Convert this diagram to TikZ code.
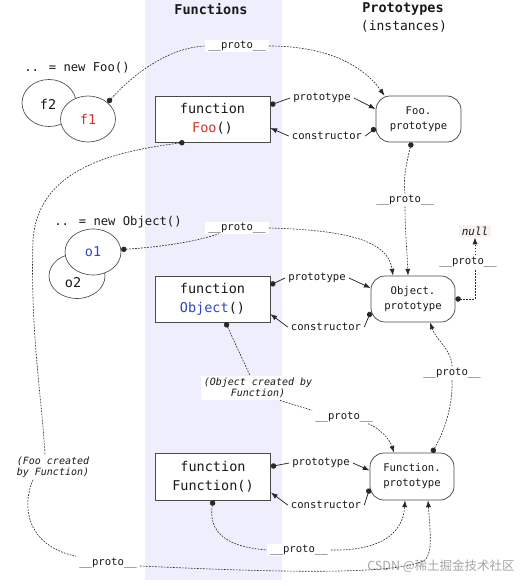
\documentclass[tikz,border=0pt]{standalone}
\usepackage{fontspec}
\setmainfont{DejaVu Sans Mono}
\setmonofont{DejaVu Sans Mono}
\newfontfamily\cjkfont{Noto Sans CJK SC}
\usetikzlibrary{arrows.meta,shapes.geometric,calc}
\definecolor{bandc}{RGB}{238,238,252}
\definecolor{redc}{RGB}{208,52,44}
\definecolor{bluec}{RGB}{48,72,190}
\definecolor{linec}{RGB}{40,40,40}
\definecolor{boxc}{RGB}{75,75,75}
\definecolor{txtc}{RGB}{25,25,25}
\definecolor{nullbg}{RGB}{246,243,239}
\begin{document}
\begin{tikzpicture}[x=1pt,y=-1pt,
  every node/.style={text=txtc},
  hdr/.style={font=\bfseries\fontsize{13.5}{15}\selectfont, inner sep=0, anchor=base},
  subhdr/.style={font=\fontsize{13}{15}\selectfont, inner sep=0, anchor=base},
  newtxt/.style={font=\fontsize{12.2}{14}\selectfont, inner sep=0, anchor=base},
  inst/.style={ellipse, draw=boxc, line width=0.65pt, fill=white, inner sep=0, font=\fontsize{13.5}{15}\selectfont},
  insttxt/.style={inner sep=0, font=\fontsize{13.5}{15}\selectfont},
  fnbox/.style={draw=boxc, line width=0.75pt, fill=white, minimum width=115pt, minimum height=46pt, inner sep=0, align=center, font=\fontsize{13.5}{19}\selectfont},
  protobox/.style={draw=boxc, line width=0.75pt, fill=white, rounded corners=14pt, minimum width=85pt, minimum height=46pt, inner sep=0, align=center, font=\fontsize{10.6}{15}\selectfont},
  lbl/.style={font=\fontsize{10.6}{12}\selectfont, fill=white, inner xsep=3pt, inner ysep=1.5pt},
  note/.style={font=\itshape\fontsize{10}{11.5}\selectfont, fill=white, inner xsep=3pt, inner ysep=2pt},
  dl/.style={draw=linec, line width=0.6pt, dash pattern=on 1.8pt off 1.2pt},
  sl/.style={draw=linec, line width=0.75pt},
  startdot/.style={{Circle[length=5.4pt]}-},
  endtip/.style={-{Latex[length=6.8pt,width=5pt]}}
]
\useasboundingbox (0,0) rectangle (520,586);
\fill[white] (0,0) rectangle (520,586);
\fill[bandc] (145,0) rectangle (282,580);

% headers
\node[hdr] (hf) at (211,15) {Functions};
\node[hdr] (hp) at (403,13) {Prototypes};
\node[subhdr] (hi) at (404,31) {(instances)};

% instances
\node[newtxt] (nfoo) at (77,71) {.. = new Foo()};
\node[inst, minimum width=54pt, minimum height=47pt] (f2) at (49,103) {};
\node[insttxt] (f2t) at (48,104) {f2};
\node[inst, minimum width=55pt, minimum height=46pt, text=redc] (f1) at (88,119) {f1};

\node[newtxt] (nobj) at (118,225) {.. = new Object()};
\node[inst, minimum width=56pt, minimum height=45pt] (o2) at (77,276) {};
\node[insttxt] (o2t) at (73,283) {o2};
\node[inst, minimum width=56pt, minimum height=46pt, text=bluec] (o1) at (93,252) {o1};

% function boxes
\node[fnbox] (Foo) at (212.5,119) {function\\\textcolor{redc}{Foo}()};
\node[fnbox] (OB) at (212.5,299) {function\\\textcolor{bluec}{Object}()};
\node[fnbox, minimum height=47pt] (FB) at (213,476.5) {function\\Function()};

% prototype boxes
\node[protobox] (FP) at (418.5,119) {Foo.\\prototype};
\node[protobox, minimum width=84pt] (OP) at (413,299) {Object.\\prototype};
\node[protobox, minimum width=84pt, minimum height=47pt] (FnP) at (412,476.5) {Function.\\prototype};

\node[font=\itshape\fontsize{11}{12}\selectfont, fill=nullbg, inner xsep=3pt, inner ysep=2pt] (nl) at (475,231) {null};

% labels
\node[lbl] (lp1) at (322,98) {prototype};
\node[lbl] (lc1) at (327,136) {constructor};
\node[lbl] (lp2) at (317,278) {prototype};
\node[lbl] (lc2) at (326,327) {constructor};
\node[lbl] (lp3) at (321,463) {prototype};
\node[lbl] (lc3) at (326,505) {constructor};

\node[lbl] (p1) at (237,46) {\_\_proto\_\_};
\node[lbl] (po) at (237,228) {\_\_proto\_\_};
\node[lbl] (pf) at (405,200) {\_\_proto\_\_};
\node[lbl] (pn) at (468,262) {\_\_proto\_\_};
\node[lbl] (pof) at (344,417) {\_\_proto\_\_};
\node[lbl] (pfo) at (452,373) {\_\_proto\_\_};
\node[lbl] (pff) at (299,550) {\_\_proto\_\_};
\node[lbl] (pb) at (108,563) {\_\_proto\_\_};

\node[note, align=center] (lof) at (258,388) {(Object created by\\Function)};
\node[note, align=left, fill=none] (ffl) at (53,467) {(Foo created\\by Function)};

% prototype / constructor links
\draw[sl, startdot] ($(Foo.east)+(0,-14)$) -- (lp1.west);
\draw[sl, endtip] (lp1.east) -- ($(FP.west)+(0,-10)$);
\draw[sl, startdot] ($(FP.west)+(0,9)$) -- (lc1.east);
\draw[sl, endtip] (lc1.west) -- ($(Foo.east)+(0,9)$);

\draw[sl, startdot] ($(OB.east)+(0,-14)$) -- (lp2.west);
\draw[sl, endtip] (lp2.east) -- ($(OP.west)+(0,-11)$);
\draw[sl, startdot] ($(OP.west)+(0,13)$) -- (lc2.east);
\draw[sl, endtip] (lc2.west) -- ($(OB.east)+(0,15)$);

\draw[sl, startdot] ($(FB.east)+(0,-10)$) -- (lp3.west);
\draw[sl, endtip] (lp3.east) -- ($(FnP.west)+(0,-6)$);
\draw[sl, startdot] ($(FnP.west)+(0,12)$) -- (lc3.east);
\draw[sl, endtip] (lc3.west) -- ($(FB.east)+(0,16)$);

% __proto__ links
\draw[dl, startdot] (f1.40) .. controls (130,78) and (165,48) .. (p1.west);
\draw[dl, endtip] (p1.east) .. controls (325,46) and (362,64) .. ($(FP.north)+(-34,0)$);

\draw[dl, startdot] (o1.5) .. controls (160,247) and (195,242) .. ($(po.south west)+(14,-1)$);
\draw[dl, endtip] (po.east) .. controls (345,230) and (388,240) .. ($(OP.north)+(-20,0)$);

\draw[dl, startdot] ($(FP.south)+(-7,0)$) .. controls (406,165) and (403,180) .. (pf.north);
\draw[dl, endtip] (pf.south) .. controls (405,230) and (407,250) .. ($(OP.north)+(-5,0)$);

\draw[dl, startdot] (OP.east) -| ($(pn.south)+(7,0)$);
\draw[dl, endtip] ($(pn.north)+(7,0)$) -- (nl.south);

\draw[dl, startdot] ($(OB.south)+(13,0)$) -- ($(lof.north)+(-8,0)$);
\draw[dl] ($(lof.south)+(22,0)$) -- (pof.north west);
\draw[dl, endtip] ($(pof.south east)+(-8,0)$) .. controls (380,428) and (390,440) .. ($(FnP.north)+(-18,0)$);

\draw[dl, startdot] ($(FnP.north)+(20,0)$) .. controls (445,430) and (453,405) .. (pfo.south);
\draw[dl, endtip] (pfo.north) .. controls (452,350) and (436,340) .. ($(OP.south)+(17,0)$);

\draw[dl, startdot] (FB.south) .. controls (207,540) and (240,548) .. (pff.west);
\draw[dl, endtip] (pff.east) .. controls (378,551) and (403,535) .. ($(FnP.south)+(-7,0)$);

\draw[dl, startdot] ($(Foo.south)+(-28,0)$) .. controls (110,152) and (38,170) .. (33,240)
   .. controls (30,330) and (42,400) .. ($(ffl.north)+(-8,0)$);
\draw[dl] ($(ffl.south)+(-20,0)$) .. controls (22,505) and (25,545) .. (pb.north west);
\draw[dl, endtip] ($(pb.east)+(0,3)$) .. controls (250,571) and (395,577) .. (425,560)
   .. controls (433,553) and (430,530) .. ($(FnP.south)+(16,0)$);

% watermark
\node[font=\cjkfont\fontsize{12.5}{13}\selectfont, text=gray, opacity=0.7, inner sep=0] (wm) at (441,566) {CSDN @稀土掘金技术社区};
\end{tikzpicture}
\end{document}
